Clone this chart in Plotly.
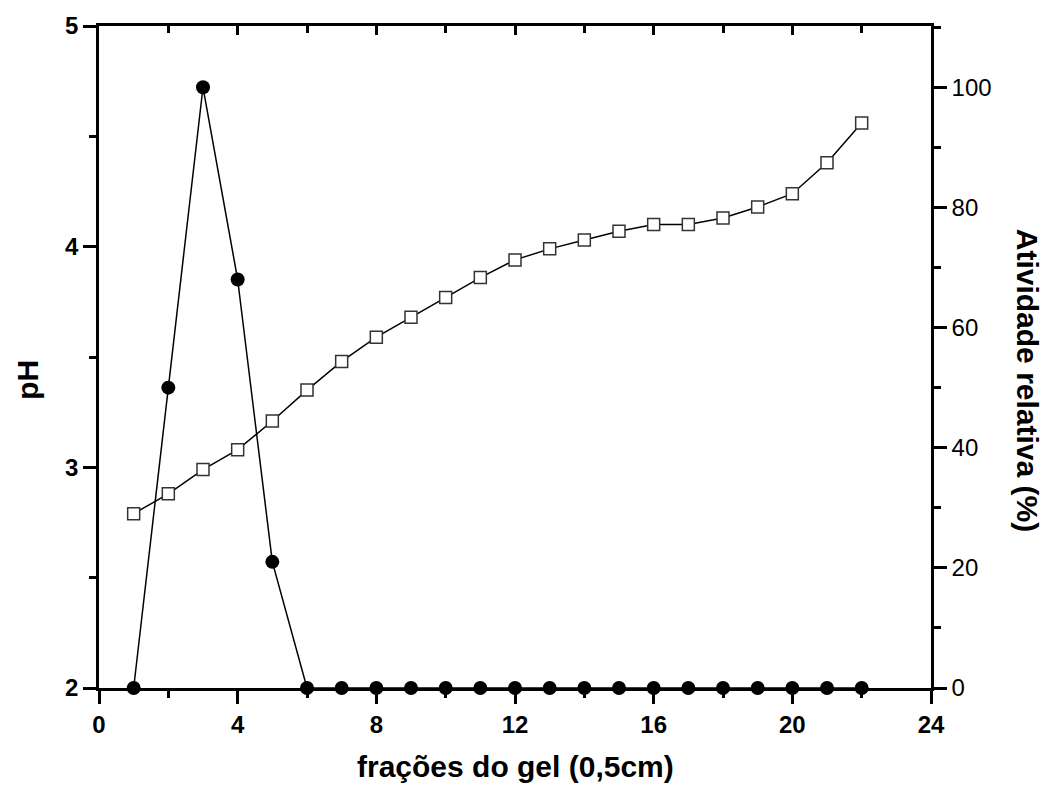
import plotly.graph_objects as go

fracoes = list(range(1, 23))
ph = [2.79, 2.88, 2.99, 3.08, 3.21, 3.35, 3.48, 3.59, 3.68, 3.77, 3.86, 3.94,
      3.99, 4.03, 4.07, 4.10, 4.10, 4.13, 4.18, 4.24, 4.38, 4.56]
atividade = [0, 50, 100, 68, 21, 0, 0, 0, 0, 0, 0, 0, 0, 0, 0, 0, 0, 0, 0, 0, 0, 0]

x_title = "frações do gel (0,5cm)"
y_title = "pH"
y2_title = "Atividade relativa (%)"

FONT = "Liberation Sans, Arial, sans-serif"

fig = go.Figure()
fig.add_trace(go.Scatter(
    x=fracoes, y=atividade, yaxis="y2", mode="lines+markers",
    line=dict(color="black", width=1.5),
    marker=dict(symbol="circle", size=14, color="black"),
    showlegend=False, cliponaxis=False))
fig.add_trace(go.Scatter(
    x=fracoes, y=ph, yaxis="y", mode="lines+markers",
    line=dict(color="black", width=1.5),
    marker=dict(symbol="square", size=12, color="white",
                line=dict(color="#333333", width=1.5)),
    showlegend=False, cliponaxis=False))
# invisible trace to activate top axis
fig.add_trace(go.Scatter(x=[0], y=[2], xaxis="x2", mode="markers",
                         marker=dict(opacity=0), showlegend=False, hoverinfo="skip"))

axis_common = dict(showgrid=False, zeroline=False, showline=True,
                   linecolor="black", linewidth=2.5, ticks="outside",
                   tickcolor="black", tickwidth=2.5, ticklen=13)

fig.update_layout(
    width=1050, height=795,
    margin=dict(l=99, r=119, t=20, b=107),
    paper_bgcolor="white", plot_bgcolor="white",
    font=dict(family=FONT, color="black"),
    xaxis=dict(**axis_common, range=[0, 24], tickvals=[0, 4, 8, 12, 16, 20, 24],
               tickfont=dict(size=24, weight="bold", family=FONT),
               minor=dict(dtick=2, ticks="outside", ticklen=7, tickwidth=2.5, tickcolor="black")),
    xaxis2=dict(overlaying="x", side="top", range=[0, 24], showgrid=False, zeroline=False,
                showline=True, linecolor="black", linewidth=2.5,
                ticks="inside", tickvals=[0, 4, 8, 12, 16, 20, 24], ticklen=9,
                tickwidth=2.5, tickcolor="black", showticklabels=False,
                minor=dict(dtick=2, ticks="inside", ticklen=7, tickwidth=2.5, tickcolor="black")),
    yaxis=dict(**axis_common, range=[2, 5], tickvals=[2, 3, 4, 5],
               tickfont=dict(size=24, weight="bold", family=FONT),
               minor=dict(dtick=0.5, ticks="outside", ticklen=7, tickwidth=2.5, tickcolor="black")),
    yaxis2=dict(**axis_common, overlaying="y", side="right", range=[0, 110.2],
                tickvals=[0, 20, 40, 60, 80, 100],
                tickfont=dict(size=24, family=FONT),
                minor=dict(dtick=10, ticks="outside", ticklen=7, tickwidth=2.5, tickcolor="black")),
    annotations=[
        dict(text=x_title, xref="paper", yref="paper", x=0.5, y=0, yshift=-78,
             xanchor="center", yanchor="middle", showarrow=False,
             font=dict(size=30, weight="bold", family=FONT)),
        dict(text=y_title, textangle=-90, xref="paper", yref="paper",
             x=0, xshift=-71, y=0.4656, xanchor="center", yanchor="middle", showarrow=False,
             font=dict(size=30, weight="bold", family=FONT)),
        dict(text=y2_title, textangle=90, xref="paper", yref="paper",
             x=1.0, xshift=96, y=0.4656, xanchor="center", yanchor="middle", showarrow=False,
             font=dict(size=30, weight="bold", family=FONT)),
    ],
)

fig.write_html("out.html")
